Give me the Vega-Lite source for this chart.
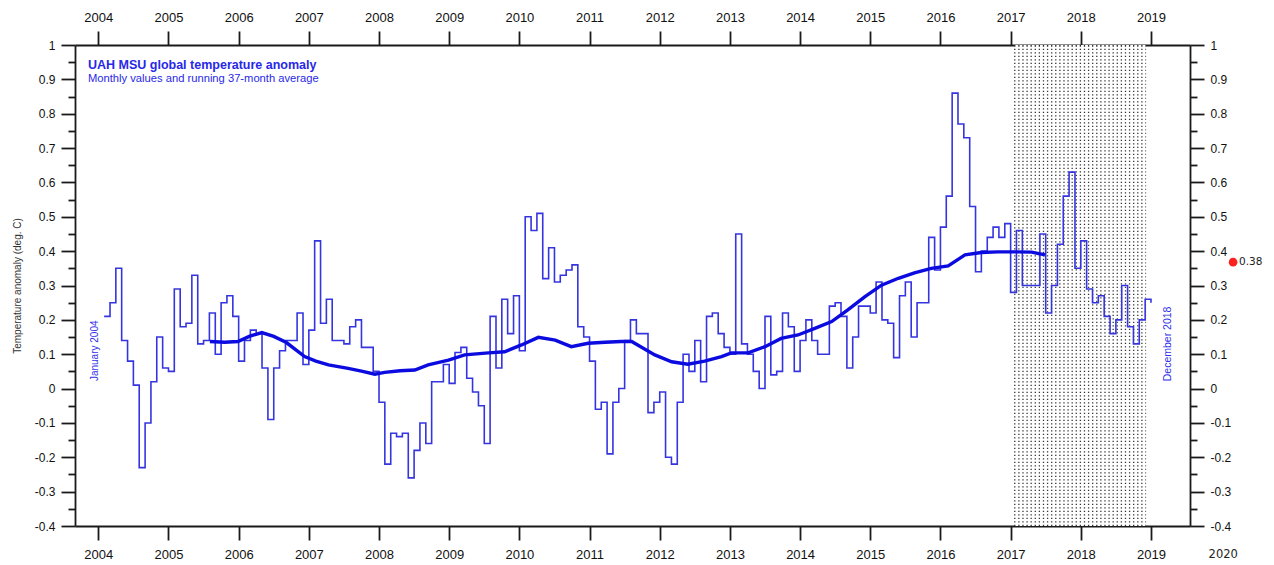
{
  "$schema": "https://vega.github.io/schema/vega-lite/v6.json",
  "width": 1115,
  "height": 481,
  "autosize": {"type": "none"},
  "padding": {"left": 75, "top": 45, "right": 84, "bottom": 39},
  "background": "white",
  "config": {
    "view": {"stroke": null},
    "font": "Liberation Sans",
    "axis": {
      "domainColor": "#1a1a1a", "domainWidth": 1.8,
      "tickColor": "#1a1a1a", "tickWidth": 1.8,
      "labelColor": "#111111", "labelFontSize": 12, "labelFont": "Liberation Sans",
      "grid": false, "labelFlush": false, "labelOverlap": false
    }
  },
  "datasets": {
    "monthly": [
      {"t": 2004.083, "v": 0.21}, {"t": 2004.167, "v": 0.25}, {"t": 2004.25, "v": 0.35}, {"t": 2004.333, "v": 0.14}, {"t": 2004.417, "v": 0.08}, {"t": 2004.5, "v": 0.01}, {"t": 2004.583, "v": -0.23}, {"t": 2004.667, "v": -0.10}, {"t": 2004.75, "v": 0.02}, {"t": 2004.833, "v": 0.15}, {"t": 2004.917, "v": 0.06}, {"t": 2005.0, "v": 0.05},
      {"t": 2005.083, "v": 0.29}, {"t": 2005.167, "v": 0.18}, {"t": 2005.25, "v": 0.19}, {"t": 2005.333, "v": 0.33}, {"t": 2005.417, "v": 0.13}, {"t": 2005.5, "v": 0.14}, {"t": 2005.583, "v": 0.22}, {"t": 2005.667, "v": 0.10}, {"t": 2005.75, "v": 0.25}, {"t": 2005.833, "v": 0.27}, {"t": 2005.917, "v": 0.21}, {"t": 2006.0, "v": 0.08},
      {"t": 2006.083, "v": 0.14}, {"t": 2006.167, "v": 0.17}, {"t": 2006.25, "v": 0.16}, {"t": 2006.333, "v": 0.06}, {"t": 2006.417, "v": -0.09}, {"t": 2006.5, "v": 0.06}, {"t": 2006.583, "v": 0.11}, {"t": 2006.667, "v": 0.14}, {"t": 2006.75, "v": 0.14}, {"t": 2006.833, "v": 0.22}, {"t": 2006.917, "v": 0.07}, {"t": 2007.0, "v": 0.17},
      {"t": 2007.083, "v": 0.43}, {"t": 2007.167, "v": 0.19}, {"t": 2007.25, "v": 0.26}, {"t": 2007.333, "v": 0.14}, {"t": 2007.417, "v": 0.14}, {"t": 2007.5, "v": 0.13}, {"t": 2007.583, "v": 0.18}, {"t": 2007.667, "v": 0.20}, {"t": 2007.75, "v": 0.12}, {"t": 2007.833, "v": 0.12}, {"t": 2007.917, "v": 0.05}, {"t": 2008.0, "v": -0.04},
      {"t": 2008.083, "v": -0.22}, {"t": 2008.167, "v": -0.13}, {"t": 2008.25, "v": -0.14}, {"t": 2008.333, "v": -0.13}, {"t": 2008.417, "v": -0.26}, {"t": 2008.5, "v": -0.18}, {"t": 2008.583, "v": -0.10}, {"t": 2008.667, "v": -0.16}, {"t": 2008.75, "v": 0.02}, {"t": 2008.833, "v": 0.02}, {"t": 2008.917, "v": 0.07}, {"t": 2009.0, "v": 0.015},
      {"t": 2009.083, "v": 0.105}, {"t": 2009.167, "v": 0.12}, {"t": 2009.25, "v": 0.03}, {"t": 2009.333, "v": -0.01}, {"t": 2009.417, "v": -0.05}, {"t": 2009.5, "v": -0.16}, {"t": 2009.583, "v": 0.21}, {"t": 2009.667, "v": 0.06}, {"t": 2009.75, "v": 0.26}, {"t": 2009.833, "v": 0.16}, {"t": 2009.917, "v": 0.27}, {"t": 2010.0, "v": 0.11},
      {"t": 2010.083, "v": 0.50}, {"t": 2010.167, "v": 0.46}, {"t": 2010.25, "v": 0.51}, {"t": 2010.333, "v": 0.32}, {"t": 2010.417, "v": 0.41}, {"t": 2010.5, "v": 0.31}, {"t": 2010.583, "v": 0.33}, {"t": 2010.667, "v": 0.345}, {"t": 2010.75, "v": 0.36}, {"t": 2010.833, "v": 0.18}, {"t": 2010.917, "v": 0.15}, {"t": 2011.0, "v": 0.08},
      {"t": 2011.083, "v": -0.06}, {"t": 2011.167, "v": -0.04}, {"t": 2011.25, "v": -0.19}, {"t": 2011.333, "v": -0.04}, {"t": 2011.417, "v": 0.0}, {"t": 2011.5, "v": 0.14}, {"t": 2011.583, "v": 0.20}, {"t": 2011.667, "v": 0.16}, {"t": 2011.75, "v": 0.16}, {"t": 2011.833, "v": -0.07}, {"t": 2011.917, "v": -0.04}, {"t": 2012.0, "v": -0.01},
      {"t": 2012.083, "v": -0.20}, {"t": 2012.167, "v": -0.22}, {"t": 2012.25, "v": -0.04}, {"t": 2012.333, "v": 0.10}, {"t": 2012.417, "v": 0.05}, {"t": 2012.5, "v": 0.14}, {"t": 2012.583, "v": 0.02}, {"t": 2012.667, "v": 0.21}, {"t": 2012.75, "v": 0.22}, {"t": 2012.833, "v": 0.16}, {"t": 2012.917, "v": 0.12}, {"t": 2013.0, "v": 0.10},
      {"t": 2013.083, "v": 0.45}, {"t": 2013.167, "v": 0.13}, {"t": 2013.25, "v": 0.10}, {"t": 2013.333, "v": 0.05}, {"t": 2013.417, "v": 0.0}, {"t": 2013.5, "v": 0.21}, {"t": 2013.583, "v": 0.04}, {"t": 2013.667, "v": 0.05}, {"t": 2013.75, "v": 0.22}, {"t": 2013.833, "v": 0.18}, {"t": 2013.917, "v": 0.05}, {"t": 2014.0, "v": 0.14},
      {"t": 2014.083, "v": 0.20}, {"t": 2014.167, "v": 0.14}, {"t": 2014.25, "v": 0.10}, {"t": 2014.333, "v": 0.10}, {"t": 2014.417, "v": 0.24}, {"t": 2014.5, "v": 0.25}, {"t": 2014.583, "v": 0.21}, {"t": 2014.667, "v": 0.06}, {"t": 2014.75, "v": 0.15}, {"t": 2014.833, "v": 0.24}, {"t": 2014.917, "v": 0.24}, {"t": 2015.0, "v": 0.22},
      {"t": 2015.083, "v": 0.31}, {"t": 2015.167, "v": 0.20}, {"t": 2015.25, "v": 0.19}, {"t": 2015.333, "v": 0.09}, {"t": 2015.417, "v": 0.27}, {"t": 2015.5, "v": 0.31}, {"t": 2015.583, "v": 0.15}, {"t": 2015.667, "v": 0.25}, {"t": 2015.75, "v": 0.25}, {"t": 2015.833, "v": 0.44}, {"t": 2015.917, "v": 0.345}, {"t": 2016.0, "v": 0.47},
      {"t": 2016.083, "v": 0.56}, {"t": 2016.167, "v": 0.86}, {"t": 2016.25, "v": 0.77}, {"t": 2016.333, "v": 0.73}, {"t": 2016.417, "v": 0.53}, {"t": 2016.5, "v": 0.34}, {"t": 2016.583, "v": 0.40}, {"t": 2016.667, "v": 0.44}, {"t": 2016.75, "v": 0.47}, {"t": 2016.833, "v": 0.44}, {"t": 2016.917, "v": 0.48}, {"t": 2017.0, "v": 0.28},
      {"t": 2017.083, "v": 0.46}, {"t": 2017.167, "v": 0.30}, {"t": 2017.25, "v": 0.30}, {"t": 2017.333, "v": 0.30}, {"t": 2017.417, "v": 0.45}, {"t": 2017.5, "v": 0.22}, {"t": 2017.583, "v": 0.30}, {"t": 2017.667, "v": 0.42}, {"t": 2017.75, "v": 0.56}, {"t": 2017.833, "v": 0.63}, {"t": 2017.917, "v": 0.35}, {"t": 2018.0, "v": 0.43},
      {"t": 2018.083, "v": 0.29}, {"t": 2018.167, "v": 0.25}, {"t": 2018.25, "v": 0.27}, {"t": 2018.333, "v": 0.21}, {"t": 2018.417, "v": 0.16}, {"t": 2018.5, "v": 0.20}, {"t": 2018.583, "v": 0.30}, {"t": 2018.667, "v": 0.18}, {"t": 2018.75, "v": 0.13}, {"t": 2018.833, "v": 0.20}, {"t": 2018.917, "v": 0.26}, {"t": 2019.0, "v": 0.25}
    ],
    "smooth": [
      {"t": 2005.59, "v": 0.137}, {"t": 2005.8, "v": 0.135}, {"t": 2005.99, "v": 0.137}, {"t": 2006.15, "v": 0.152}, {"t": 2006.33, "v": 0.163}, {"t": 2006.5, "v": 0.152}, {"t": 2006.68, "v": 0.134}, {"t": 2006.94, "v": 0.093}, {"t": 2007.1, "v": 0.08}, {"t": 2007.28, "v": 0.069}, {"t": 2007.56, "v": 0.059}, {"t": 2007.75, "v": 0.051}, {"t": 2007.94, "v": 0.042}, {"t": 2008.08, "v": 0.047}, {"t": 2008.3, "v": 0.052}, {"t": 2008.51, "v": 0.054}, {"t": 2008.7, "v": 0.069}, {"t": 2008.99, "v": 0.083}, {"t": 2009.22, "v": 0.098}, {"t": 2009.56, "v": 0.104}, {"t": 2009.79, "v": 0.107}, {"t": 2010.03, "v": 0.127}, {"t": 2010.27, "v": 0.149}, {"t": 2010.51, "v": 0.141}, {"t": 2010.74, "v": 0.122}, {"t": 2010.98, "v": 0.132}, {"t": 2011.22, "v": 0.135}, {"t": 2011.45, "v": 0.137}, {"t": 2011.6, "v": 0.137}, {"t": 2011.93, "v": 0.098}, {"t": 2012.17, "v": 0.078}, {"t": 2012.4, "v": 0.071}, {"t": 2012.64, "v": 0.08}, {"t": 2012.88, "v": 0.093}, {"t": 2013.02, "v": 0.104}, {"t": 2013.26, "v": 0.104}, {"t": 2013.5, "v": 0.122}, {"t": 2013.73, "v": 0.146}, {"t": 2013.97, "v": 0.156}, {"t": 2014.21, "v": 0.175}, {"t": 2014.45, "v": 0.195}, {"t": 2014.68, "v": 0.229}, {"t": 2014.92, "v": 0.267}, {"t": 2015.16, "v": 0.301}, {"t": 2015.4, "v": 0.321}, {"t": 2015.63, "v": 0.337}, {"t": 2015.87, "v": 0.35}, {"t": 2016.11, "v": 0.357}, {"t": 2016.35, "v": 0.389}, {"t": 2016.58, "v": 0.396}, {"t": 2016.82, "v": 0.398}, {"t": 2017.06, "v": 0.398}, {"t": 2017.3, "v": 0.397}, {"t": 2017.49, "v": 0.389}
    ],
    "latest": [{"t": 2020.17, "v": 0.368, "label": "0.38"}]
  },
  "resolve": {"axis": {"x": "independent", "y": "independent"}},
  "layer": [
    {
      "data": {"values": [{}]},
      "mark": {"type": "rule", "color": "#333333", "strokeWidth": 132, "strokeDash": [1.3, 2.2]},
      "encoding": {
        "x": {"datum": 2017.99, "type": "quantitative", "scale": {"domain": [2003.668, 2019.556], "nice": false, "zero": false}, "axis": null},
        "y": {"datum": -0.4, "type": "quantitative", "scale": {"domain": [-0.4, 1], "nice": false, "zero": false}, "axis": null},
        "y2": {"datum": 1.0}
      }
    },
    {
      "data": {"values": [{}]},
      "mark": {"type": "rule", "color": "white", "strokeWidth": 481, "strokeDash": [2.8, 1.3], "strokeDashOffset": 2.8},
      "encoding": {
        "x": {"datum": 2017.05, "type": "quantitative", "scale": {"domain": [2003.668, 2019.556], "nice": false, "zero": false}, "axis": null},
        "x2": {"datum": 2018.93},
        "y": {"datum": 0.3, "type": "quantitative", "scale": {"domain": [-0.4, 1], "nice": false, "zero": false}, "axis": null}
      }
    },
    {
      "data": {"name": "monthly"},
      "mark": {"type": "line", "interpolate": "step-after", "color": "#3535e0", "strokeWidth": 1.6},
      "encoding": {
        "x": {"field": "t", "type": "quantitative", "scale": {"domain": [2003.668, 2019.556], "nice": false, "zero": false},
          "axis": {"orient": "bottom", "values": [2004, 2005, 2006, 2007, 2008, 2009, 2010, 2011, 2012, 2013, 2014, 2015, 2016, 2017, 2018, 2019], "format": "d", "tickSize": 14, "labelPadding": 8, "labelFontSize": 13, "title": null}},
        "y": {"field": "v", "type": "quantitative", "scale": {"domain": [-0.4, 1], "nice": false, "zero": false},
          "axis": {"orient": "left", "values": [-0.4, -0.35, -0.3, -0.25, -0.2, -0.15, -0.1, -0.05, 0, 0.05, 0.1, 0.15, 0.2, 0.25, 0.3, 0.35, 0.4, 0.45, 0.5, 0.55, 0.6, 0.65, 0.7, 0.75, 0.8, 0.85, 0.9, 0.95, 1],
            "tickSize": {"condition": {"test": "abs(round(datum.value*20))%2==1", "value": 7}, "value": 14},
            "labelExpr": "abs(round(datum.value*20))%2==1 ? '' : replace(format(datum.value, '.1~f'), '\u2212', '-')",
            "labelPadding": 6,
            "title": "Temperature anomaly (deg. C)", "titleFontSize": 10, "titleFontWeight": "normal", "titleColor": "#333333", "titlePadding": 12}}
      }
    },
    {
      "data": {"name": "smooth"},
      "mark": {"type": "line", "interpolate": "linear", "color": "#0b0be0", "strokeWidth": 3.4},
      "encoding": {
        "x": {"field": "t", "type": "quantitative", "scale": {"domain": [2003.668, 2019.556], "nice": false, "zero": false},
          "axis": {"orient": "top", "values": [2004, 2005, 2006, 2007, 2008, 2009, 2010, 2011, 2012, 2013, 2014, 2015, 2016, 2017, 2018, 2019], "format": "d", "tickSize": 14, "labelPadding": 7, "labelFontSize": 13, "title": null}},
        "y": {"field": "v", "type": "quantitative", "scale": {"domain": [-0.4, 1], "nice": false, "zero": false},
          "axis": {"orient": "right", "values": [-0.4, -0.35, -0.3, -0.25, -0.2, -0.15, -0.1, -0.05, 0, 0.05, 0.1, 0.15, 0.2, 0.25, 0.3, 0.35, 0.4, 0.45, 0.5, 0.55, 0.6, 0.65, 0.7, 0.75, 0.8, 0.85, 0.9, 0.95, 1],
            "tickSize": {"condition": {"test": "abs(round(datum.value*20))%2==1", "value": 7}, "value": 14},
            "labelExpr": "abs(round(datum.value*20))%2==1 ? '' : replace(format(datum.value, '.1~f'), '\u2212', '-')",
            "labelPadding": 6, "title": null}}
      }
    },
    {
      "data": {"values": [{"label": "UAH MSU global temperature anomaly"}]},
      "mark": {"type": "text", "align": "left", "baseline": "middle", "fontSize": 12.5, "fontWeight": "bold", "color": "#2828e8"},
      "encoding": {
        "text": {"field": "label"},
        "x": {"datum": 2003.853, "type": "quantitative", "axis": null},
        "y": {"datum": 0.942, "type": "quantitative", "axis": null}
      }
    },
    {
      "data": {"values": [{"label": "Monthly values and running 37-month average"}]},
      "mark": {"type": "text", "align": "left", "baseline": "middle", "fontSize": 11.2, "color": "#2828e8"},
      "encoding": {
        "text": {"field": "label"},
        "x": {"datum": 2003.853, "type": "quantitative", "axis": null},
        "y": {"datum": 0.901, "type": "quantitative", "axis": null}
      }
    },
    {
      "data": {"values": [{"label": "January 2004"}]},
      "mark": {"type": "text", "align": "center", "baseline": "middle", "angle": 270, "fontSize": 10, "color": "#3030e8"},
      "encoding": {
        "text": {"field": "label"},
        "x": {"datum": 2003.95, "type": "quantitative", "axis": null},
        "y": {"datum": 0.11, "type": "quantitative", "axis": null}
      }
    },
    {
      "data": {"values": [{"label": "December 2018"}]},
      "mark": {"type": "text", "align": "center", "baseline": "middle", "angle": 270, "fontSize": 10.5, "color": "#3030e8"},
      "encoding": {
        "text": {"field": "label"},
        "x": {"datum": 2019.242, "type": "quantitative", "axis": null},
        "y": {"datum": 0.13, "type": "quantitative", "axis": null}
      }
    },
    {
      "data": {"name": "latest"},
      "mark": {"type": "point", "filled": true, "size": 75, "color": "#ff2020", "opacity": 1},
      "encoding": {
        "x": {"field": "t", "type": "quantitative", "axis": null},
        "y": {"field": "v", "type": "quantitative", "axis": null}
      }
    },
    {
      "data": {"name": "latest"},
      "mark": {"type": "text", "align": "left", "baseline": "middle", "dx": 6, "fontSize": 10.5, "font": "DejaVu Sans", "color": "#222222"},
      "encoding": {
        "text": {"field": "label"},
        "x": {"field": "t", "type": "quantitative", "axis": null},
        "y": {"field": "v", "type": "quantitative", "axis": null}
      }
    },
    {
      "data": {"values": [{"label": "2020"}]},
      "mark": {"type": "text", "align": "center", "baseline": "middle", "fontSize": 11.5, "font": "DejaVu Sans", "color": "#222222", "letterSpacing": 0.8},
      "encoding": {
        "text": {"field": "label"},
        "x": {"datum": 2020.03, "type": "quantitative", "axis": null},
        "y": {"datum": -0.484, "type": "quantitative", "axis": null}
      }
    }
  ]
}
